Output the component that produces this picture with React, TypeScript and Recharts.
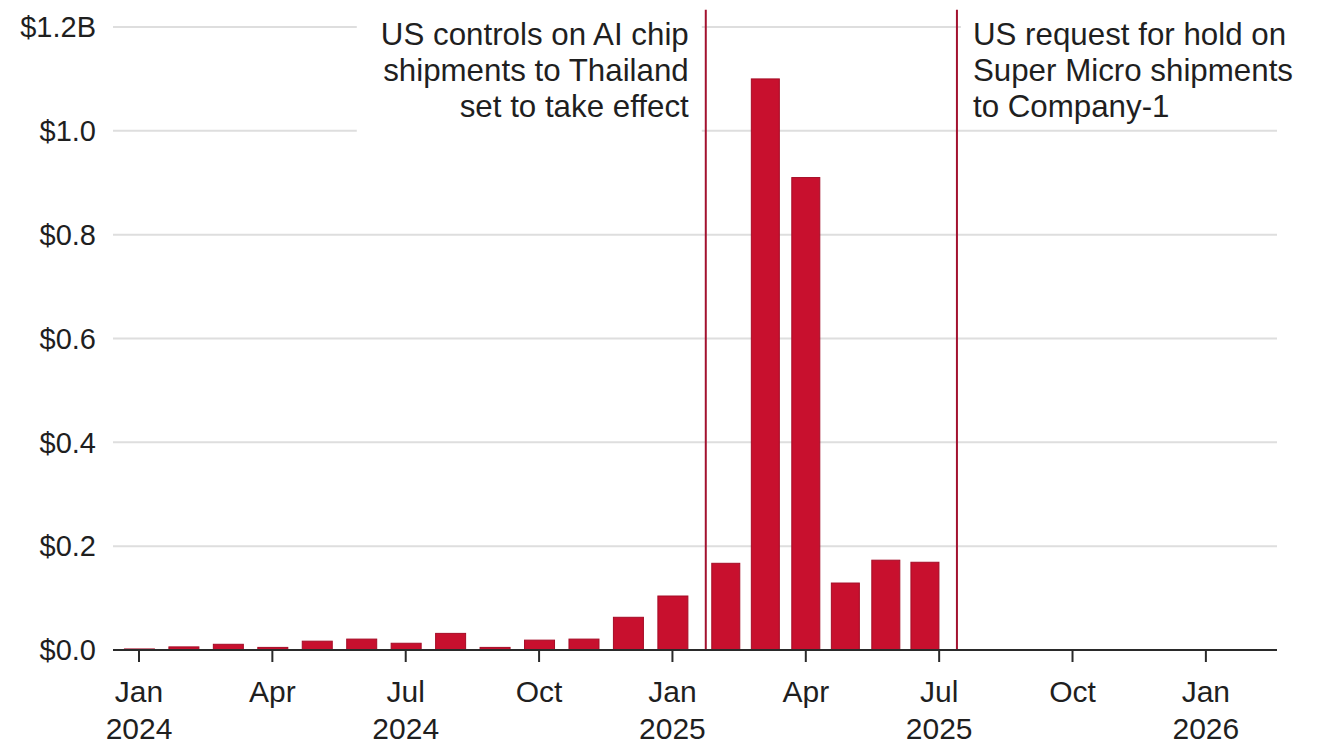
import { BarChart, Bar, XAxis, YAxis, CartesianGrid, ReferenceLine } from "recharts";

// monthly shipments, US$ billions, Jan 2024 .. Jul 2025
const months = [
  "2024-01", "2024-02", "2024-03", "2024-04", "2024-05", "2024-06",
  "2024-07", "2024-08", "2024-09", "2024-10", "2024-11", "2024-12",
  "2025-01", "2025-02", "2025-03", "2025-04", "2025-05", "2025-06", "2025-07",
];
const shipments = [
  0.002, 0.006, 0.011, 0.005, 0.017, 0.021,
  0.013, 0.032, 0.005, 0.019, 0.021, 0.063,
  0.104, 0.167, 1.1, 0.91, 0.129, 0.173, 0.169,
];
// where each bar sits on the time axis, in months since Jan 2024
const barAt = [
  0, 1, 2, 3, 4, 5, 6, 7, 8, 9, 10, 11,
  12, 13.19, 14.08, 14.99, 15.88, 16.79, 17.67,
];

// x axis ticks, in months since Jan 2024
const tickPos = [0, 3, 6, 9, 12, 15, 18, 21, 24];
const tickMonths = ["Jan", "Apr", "Jul", "Oct", "Jan", "Apr", "Jul", "Oct", "Jan"];
const tickYears = ["2024", "", "2024", "", "2025", "", "2025", "", "2026"];

const yTicks = [0, 0.2, 0.4, 0.6, 0.8, 1.0, 1.2];

// events, in months since Jan 2024
const eventAt = [12.75, 18.4];
const eventText = [
  ["US controls on AI chip", "shipments to Thailand", "set to take effect"],
  ["US request for hold on", "Super Micro shipments", "to Company-1"],
];
const eventSide = ["left", "right"];

const FONT = "'Liberation Sans', Arial, Helvetica, sans-serif";
const INK = "#1f1f1f";
const BAR = "#c8102e";
const RULE = "#a3122f";

const data = months.map((m, i) => ({ pos: barAt[i], month: m, value: shipments[i] }));

function MonthTick({ x, y, payload }: any) {
  const i = tickPos.indexOf(payload.value);
  return (
    <g>
      <text x={x} y={y + 40} textAnchor="middle" fontSize={30} fill={INK} fontFamily={FONT}>
        {tickMonths[i]}
      </text>
      {tickYears[i] && (
        <text x={x} y={y + 77} textAnchor="middle" fontSize={30} fill={INK} fontFamily={FONT}>
          {tickYears[i]}
        </text>
      )}
    </g>
  );
}

// bars after the first event are drawn a touch narrower
function BarShape({ x, y, width, height, payload }: any) {
  if (!height || height <= 0) return null;
  const inset = payload.pos > eventAt[0] ? 1 : 0;
  return (
    <rect
      x={x + inset}
      y={y}
      width={width - inset * 2}
      height={height}
      fill={BAR}
      stroke="#a50c26"
      strokeWidth={1}
    />
  );
}

function EventLabel({ viewBox, lines, side }: any) {
  const x = viewBox.x;
  const top = viewBox.y;
  const left = side === "left";
  const tx = left ? x - 17 : x + 16;
  const boxW = 345;
  const boxH = left ? 126 : 110;
  return (
    <g>
      <rect
        x={left ? x - boxW - 4 : x + 4}
        y={top + 8}
        width={boxW}
        height={boxH}
        fill="#fff"
      />
      {lines.map((l: string, i: number) => (
        <text
          key={i}
          x={tx}
          y={top + 35 + i * 36}
          textAnchor={left ? "end" : "start"}
          fontSize={31.3}
          fill={INK}
          fontFamily={FONT}
        >
          {l}
        </text>
      ))}
    </g>
  );
}

export default function App() {
  return (
    <div style={{ position: "absolute", left: 0, top: 0, background: "#fff" }}>
      <BarChart
        width={1319}
        height={744}
        data={data}
        margin={{ top: 27, right: 42, left: 0, bottom: 0 }}
      >
        <CartesianGrid vertical={false} stroke="#dedede" strokeWidth={2} />
        <XAxis
          dataKey="pos"
          type="number"
          domain={[-0.585, 25.6]}
          ticks={tickPos}
          interval={0}
          height={94}
          tickSize={12}
          tickMargin={0}
          axisLine={{ stroke: "#2a2a2a", strokeWidth: 2 }}
          tickLine={{ stroke: "#2a2a2a", strokeWidth: 2 }}
          tick={<MonthTick />}
        />
        <YAxis
          type="number"
          domain={[0, 1.2]}
          ticks={yTicks}
          interval={0}
          width={113}
          axisLine={false}
          tickLine={false}
          tickSize={0}
          tickMargin={17}
          tick={{ fontSize: 29, fill: INK, fontFamily: FONT }}
          tickFormatter={(v: number) => (v === 1.2 ? "$1.2B" : `$${v.toFixed(1)}`)}
        />
        <Bar
          dataKey="value"
          barSize={30}
          shape={<BarShape />}
          isAnimationActive={false}
        />
        {eventAt.map((at, i) => (
          <ReferenceLine
            key={i}
            segment={[{ x: at, y: 1.233 }, { x: at, y: 0 }]}
            stroke={RULE}
            strokeWidth={2}
            ifOverflow="visible"
            label={<EventLabel lines={eventText[i]} side={eventSide[i]} />}
          />
        ))}
      </BarChart>
    </div>
  );
}
